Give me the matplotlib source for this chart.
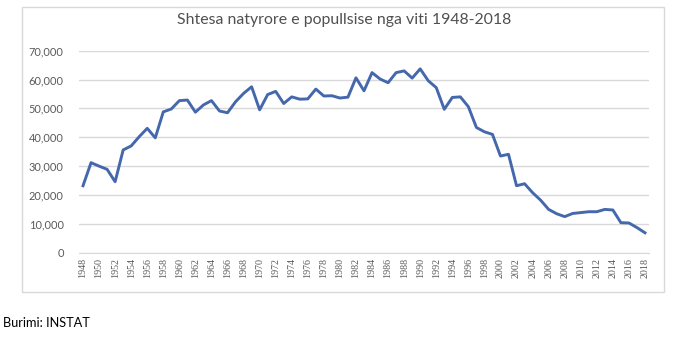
import matplotlib
matplotlib.use("Agg")
import matplotlib.pyplot as plt
from matplotlib.patches import Rectangle
from matplotlib.ticker import FuncFormatter

years = list(range(1948, 2019))
# shtesa natyrore (lindje - vdekje), lexuar nga grafiku
values = [23200, 31200, 30000, 28900, 24600, 35600, 37000, 40200, 43100, 39800,
          48800, 49800, 52700, 52900, 48700, 51200, 52700, 49100, 48500, 52300,
          55200, 57500, 49500, 54800, 55900, 51700, 54000, 53200, 53300, 56700,
          54300, 54400, 53600, 53900, 60600, 56100, 62400, 60200, 58900, 62400,
          63000, 60500, 63700, 59600, 57200, 49700, 53800, 54000, 50600, 43400,
          41900, 41000, 33500, 34100, 23200, 23900, 20800, 18200, 15000, 13500,
          12500, 13600, 13900, 14200, 14200, 15000, 14800, 10400, 10300, 8700,
          6900]
yticks = [0, 10000, 20000, 30000, 40000, 50000, 60000, 70000]

title = "Shtesa natyrore e popullsise nga viti 1948-2018"
source = "Burimi: INSTAT"

W, H = 676, 357
fig = plt.figure(figsize=(W / 100, H / 100), dpi=100)

# chart frame like the Excel chart area
fig.patches.append(Rectangle((21.7 / W, 1 - 292 / H), (664 - 21.7) / W, (292 - 6.7) / H,
                             transform=fig.transFigure, fill=False,
                             edgecolor="#d9d9d9", linewidth=1.0))

ax = fig.add_axes([79 / W, 1 - 252.7 / H, 570 / W, 202 / H])
x = list(range(len(years)))
ax.plot(x, values, color="#4568ad", linewidth=2.1, solid_joinstyle="round")

ax.set_xlim(-0.5, len(years) - 0.5)
ax.set_ylim(0, 70000)
ax.set_yticks(yticks)
ax.yaxis.set_major_formatter(FuncFormatter(lambda v, p: f"{int(v):,}"))
ax.grid(axis="y", color="#d9d9d9", linewidth=1.0)
ax.set_axisbelow(True)
for s in ["top", "right", "left"]:
    ax.spines[s].set_visible(False)
ax.spines["bottom"].set_color("#d9d9d9")
ax.tick_params(length=0)
ax.tick_params(axis="y", pad=11, labelsize=7.9, labelcolor="#595959")
for lab in ax.get_yticklabels():
    lab.set_family("Lato")

ax.set_xticks(x[::2])
ax.set_xticklabels([str(y) for y in years[::2]], rotation=90,
                   family="Liberation Serif", fontsize=7.2, color="#595959")
ax.tick_params(axis="x", pad=4)

fig.text(344 / W, 1 - 20 / H, title, ha="center", va="center",
         family="Lato", fontsize=11.4, color="#505050")
fig.text(3 / W, 1 - 323 / H, source, ha="left", va="center",
         family="Lato", fontsize=9.2, color="black")

fig.savefig("out.png", dpi=100)
